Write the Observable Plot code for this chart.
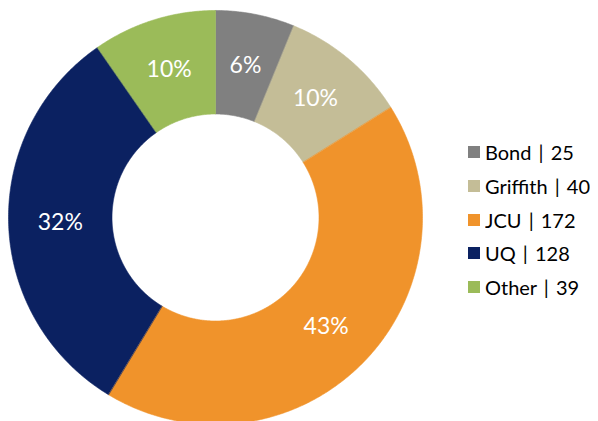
<!DOCTYPE html>
<html>
<head>
<meta charset="utf-8">
<script src="https://cdn.jsdelivr.net/npm/d3@7"></script>
<script src="https://cdn.jsdelivr.net/npm/@observablehq/plot@0.6"></script>
<style>
  html, body { margin: 0; padding: 0; background: #fff; }
  #wrap { position: relative; width: 598px; height: 421px; overflow: hidden; font-family: Lato, "Open Sans", sans-serif; }
  #chart { position: absolute; left: 0; top: 0; }
  #legend { position: absolute; left: 468px; top: 136px; }
  #legend .lg-swatch { height: 32.7px; display: flex; align-items: center; font-size: 20px !important; color: #000; margin: 0; word-spacing: 2px; }
  #legend .lg-swatch svg { margin-right: 5px; flex-shrink: 0; }
</style>
</head>
<body>
<div id="wrap"><div id="chart"></div><div id="legend"></div></div>
<script>
const names = ["Bond", "Griffith", "JCU", "UQ", "Other"];
const counts = [25, 40, 172, 128, 39];
const colors = ["#808080", "#C4BD97", "#F0932B", "#0B2161", "#9BBB59"];
const innerRatio = 0.5;

const total = d3.sum(counts);
const arcs = d3.pie().sort(null).value(d => d)(counts);

// polygon points for each slice (angle 0 = 12 o'clock, clockwise)
const pts = [];
arcs.forEach((a, i) => {
  const n = Math.max(8, Math.ceil((a.endAngle - a.startAngle) * 120));
  for (let k = 0; k <= n; k++) {
    const t = a.startAngle + (a.endAngle - a.startAngle) * k / n;
    pts.push({name: names[i], x: Math.sin(t), y: Math.cos(t)});
  }
  for (let k = n; k >= 0; k--) {
    const t = a.startAngle + (a.endAngle - a.startAngle) * k / n;
    pts.push({name: names[i], x: innerRatio * Math.sin(t), y: innerRatio * Math.cos(t)});
  }
});

const labels = arcs.map((a, i) => {
  const m = (a.startAngle + a.endAngle) / 2;
  const r = 0.75;
  return {name: names[i], x: r * Math.sin(m), y: r * Math.cos(m), text: Math.round(counts[i] / total * 100) + "%"};
});

const cx = 215, cy = 217, R = 207;
const plot = Plot.plot({
  width: 598,
  height: 421,
  margin: 0,
  x: {domain: [-1, 1], range: [cx - R, cx + R], axis: null},
  y: {domain: [-1, 1], range: [cy + R, cy - R], axis: null},
  color: {domain: names, range: colors},
  style: {fontFamily: "Lato, 'Open Sans', sans-serif", background: "transparent"},
  marks: [
    Plot.line(pts, {x: "x", y: "y", z: "name", fill: "name", stroke: "name", strokeWidth: 0.6, curve: "linear-closed"}),
    Plot.text(labels, {x: "x", y: "y", text: "text", fill: "white", fontSize: 23})
  ]
});
document.getElementById("chart").appendChild(plot);

const legend = Plot.legend({
  color: {type: "ordinal", domain: names, range: colors},
  columns: 1,
  swatchSize: 12,
  className: "lg",
  tickFormat: (d) => d + " | " + counts[names.indexOf(d)],
  style: {fontFamily: "Lato, 'Open Sans', sans-serif", fontSize: "20px"}
});
document.getElementById("legend").appendChild(legend);
</script>
</body>
</html>
